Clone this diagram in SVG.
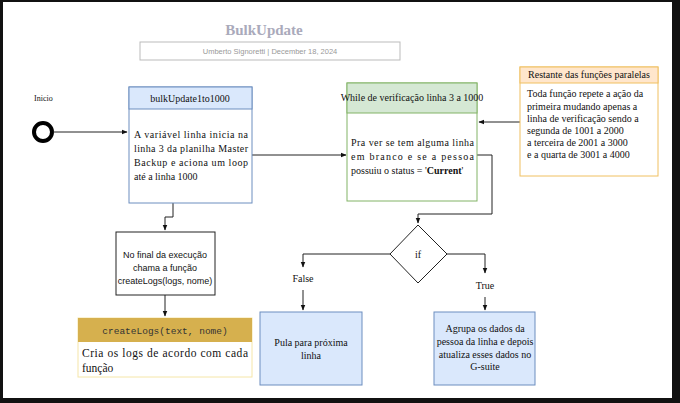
<svg xmlns="http://www.w3.org/2000/svg" width="680" height="403" viewBox="0 0 680 403">
<style>
.s{font-family:"Liberation Serif",serif;font-size:10px;fill:#111}
.b{font-family:"Liberation Serif",serif;font-size:11.5px;fill:#111}
.ss{font-family:"Liberation Sans",sans-serif;font-size:9px;fill:#111}
.ln{fill:none;stroke:#222;stroke-width:1}
</style>
<defs><marker id="a" viewBox="0 0 10 10" refX="9" refY="5" markerWidth="6" markerHeight="6" orient="auto"><path d="M0,1L10,5L0,9z" fill="#111"/></marker></defs>
<rect x="0" y="0" width="680" height="403" fill="#111"/>
<rect x="3" y="2" width="669" height="396" fill="#fff"/>
<g id="title">
<text x="264" y="35" text-anchor="middle" font-family="Liberation Serif,serif" font-size="15" font-weight="bold" fill="#aab">BulkUpdate</text>
<rect x="140" y="42" width="260" height="18" fill="#fff" stroke="#bbb"/>
<text x="270" y="54" text-anchor="middle" font-family="Liberation Sans,sans-serif" font-size="7.5" fill="#999">Umberto Signoretti | December 18, 2024</text>
</g>
<g id="inicio"><text x="34" y="101" font-family="Liberation Serif,serif" font-size="8" fill="#111">Inicio</text>
<circle cx="43" cy="132" r="9" fill="none" stroke="#000" stroke-width="4"/></g>
<g id="connectors" class="ln">
<path d="M53,132H127" marker-end="url(#a)"/>
<path d="M252,155H346" marker-end="url(#a)"/>
<path d="M520,122H479" marker-end="url(#a)"/>
<path d="M477,155H492V214H418V223" marker-end="url(#a)"/>
<path d="M390,254H303V267" marker-end="url(#a)"/>
<path d="M303,290V310" marker-end="url(#a)"/>
<path d="M447,254H485V273" marker-end="url(#a)"/>
<path d="M485,297V310" marker-end="url(#a)"/>
<path d="M173,203V217H165V230" marker-end="url(#a)"/>
<path d="M165,295V316" marker-end="url(#a)"/>
</g>
<g id="bulk">
<rect x="129" y="87" width="123" height="116" fill="#fff" stroke="#6c8ebf"/>
<rect x="129" y="87" width="123" height="22" fill="#dae8fc" stroke="#6c8ebf"/>
<text x="190" y="102" text-anchor="middle" class="s">bulkUpdate1to1000</text>
<text class="s" font-size="10.5"><tspan x="134" y="138" textLength="114">A variável linha inicia na</tspan><tspan x="134" y="152" textLength="114">linha 3 da planilha Master</tspan><tspan x="134" y="166" textLength="114">Backup e aciona um loop</tspan><tspan x="134" y="180">até a linha 1000</tspan></text>
</g>
<g id="while">
<rect x="347" y="83" width="130" height="118" fill="#fff" stroke="#82b366"/>
<rect x="347" y="83" width="130" height="30" fill="#d5e8d4" stroke="#82b366"/>
<text x="412" y="101" text-anchor="middle" class="s" font-size="8.5">While de verificação linha 3 a 1000</text>
<text class="s" font-size="10.5"><tspan x="351" y="146" textLength="123">Pra ver se tem alguma linha</tspan><tspan x="351" y="160" textLength="123">em branco e se a pessoa</tspan><tspan x="351" y="174">possuiu o status = '<tspan font-weight="bold">Current</tspan>'</tspan></text>
</g>
<g id="restante">
<rect x="520" y="67" width="138" height="109" fill="#fff" stroke="#f0c060"/>
<rect x="520" y="67" width="138" height="16" fill="#ffe6cc" stroke="#f0c060"/>
<text x="589" y="78" text-anchor="middle" class="s" font-size="8.5">Restante das funções paralelas</text>
<text class="s" font-size="10.5"><tspan x="527" y="97">Toda função repete a ação da</tspan><tspan x="527" y="110">primeira mudando apenas a</tspan><tspan x="527" y="122">linha de verificação sendo a</tspan><tspan x="527" y="134">segunda de 1001 a 2000</tspan><tspan x="527" y="146">a terceira de 2001 a 3000</tspan><tspan x="527" y="158">e a quarta de 3001 a 4000</tspan></text>
</g>
<g id="if">
<path d="M418,225L447,254L418,283L390,254Z" fill="#fff" stroke="#222"/>
<text x="418" y="258" text-anchor="middle" class="s" font-size="11">if</text>
</g>
<text x="303" y="282" text-anchor="middle" class="s" font-size="8">False</text>
<text x="485" y="289" text-anchor="middle" class="s" font-size="8">True</text>
<g id="pula">
<rect x="260" y="312" width="102" height="73" fill="#dae8fc" stroke="#6c8ebf"/>
<text class="s" font-size="10" text-anchor="middle"><tspan x="311" y="346">Pula para próxima</tspan><tspan x="311" y="359">linha</tspan></text>
</g>
<g id="agrupa">
<rect x="434" y="312" width="101" height="73" fill="#dae8fc" stroke="#6c8ebf"/>
<text class="s" font-size="10" text-anchor="middle"><tspan x="485" y="332">Agrupa os dados da</tspan><tspan x="485" y="345">pessoa da linha e depois</tspan><tspan x="485" y="358">atualiza esses dados no</tspan><tspan x="485" y="370">G-suite</tspan></text>
</g>
<g id="nofinal">
<rect x="116" y="232" width="99" height="63" fill="#fff" stroke="#222"/>
<text class="ss" font-size="8" text-anchor="middle"><tspan x="165" y="258">No final da execução</tspan><tspan x="165" y="271">chama a função</tspan><tspan x="165" y="284">createLogs(logs, nome)</tspan></text>
</g>
<g id="createlogs">
<rect x="78" y="318" width="174" height="59" fill="#fff" stroke="#f5e6a8"/>
<rect x="78" y="318" width="174" height="24" fill="#d6b04e"/>
<text x="165" y="334" text-anchor="middle" font-family="Liberation Mono,monospace" font-size="9.5" fill="#333">createLogs(text, nome)</text>
<text class="b"><tspan x="82" y="357" textLength="166">Cria os logs de acordo com cada</tspan><tspan x="82" y="372">função</tspan></text>
</g>
</svg>
